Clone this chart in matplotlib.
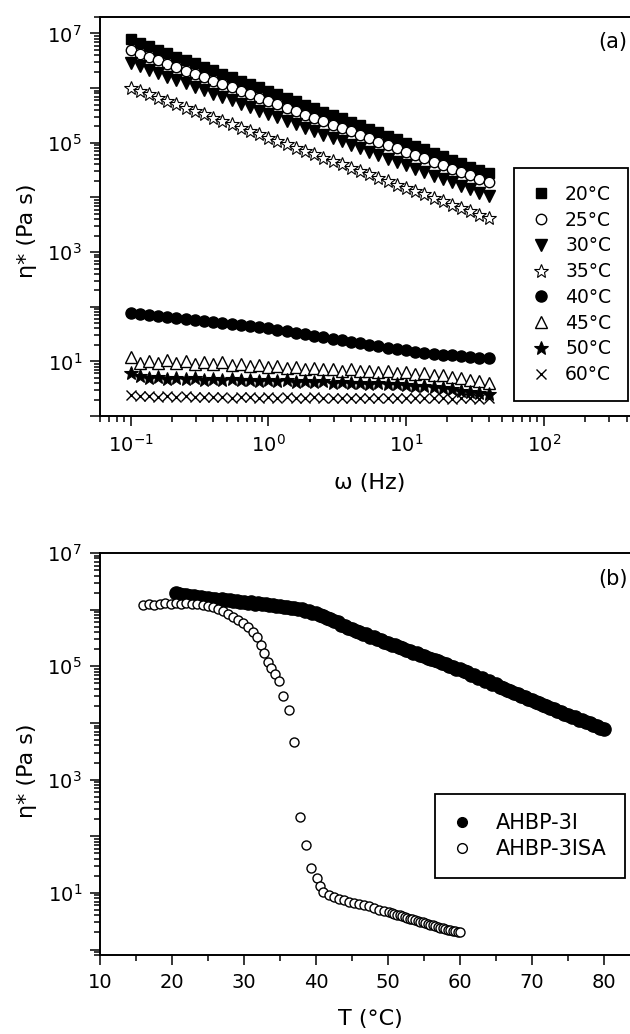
import numpy as np
import matplotlib
matplotlib.use('Agg')
import matplotlib.pyplot as plt
from matplotlib.ticker import LogLocator, FuncFormatter, MultipleLocator, NullFormatter

plt.rcParams['font.family'] = ['DejaVu Sans']
plt.rcParams['mathtext.fontset'] = 'dejavusans'
plt.rcParams['mathtext.default'] = 'regular'

# ---------------- data: panel (a) ----------------
freq = [0.1, 0.1166, 0.1359, 0.1585, 0.1848, 0.2154, 0.2512, 0.2929, 0.3415, 0.3981,
        0.4642, 0.5412, 0.6310, 0.7356, 0.8577, 1.0, 1.166, 1.359, 1.585, 1.848,
        2.154, 2.512, 2.929, 3.415, 3.981, 4.642, 5.412, 6.310, 7.356, 8.577,
        10.0, 11.66, 13.59, 15.85, 18.48, 21.54, 25.12, 29.29, 34.15, 39.81]

eta_20 = [7.8e6, 6.75e6, 5.84e6, 5.05e6, 4.37e6, 3.78e6, 3.27e6, 2.83e6, 2.45e6, 2.12e6,
          1.83e6, 1.58e6, 1.37e6, 1.19e6, 1.03e6, 8.9e5, 7.7e5, 6.65e5, 5.75e5, 4.98e5,
          4.31e5, 3.73e5, 3.22e5, 2.79e5, 2.41e5, 2.09e5, 1.81e5, 1.56e5, 1.35e5, 1.17e5,
          1.01e5, 8.75e4, 7.57e4, 6.55e4, 5.66e4, 4.9e4, 4.24e4, 3.67e4, 3.17e4, 2.74e4]
eta_25 = [4.9e6, 4.25e6, 3.69e6, 3.2e6, 2.77e6, 2.41e6, 2.09e6, 1.81e6, 1.57e6, 1.36e6,
          1.18e6, 1.03e6, 8.9e5, 7.7e5, 6.7e5, 5.8e5, 5.03e5, 4.36e5, 3.78e5, 3.28e5,
          2.85e5, 2.47e5, 2.14e5, 1.86e5, 1.61e5, 1.4e5, 1.21e5, 1.05e5, 9.1e4, 7.9e4,
          6.86e4, 5.95e4, 5.16e4, 4.47e4, 3.88e4, 3.36e4, 2.92e4, 2.53e4, 2.19e4, 1.9e4]
eta_30 = [2.9e6, 2.51e6, 2.17e6, 1.88e6, 1.63e6, 1.41e6, 1.22e6, 1.06e6, 9.2e5, 7.9e5,
          6.9e5, 5.95e5, 5.15e5, 4.46e5, 3.86e5, 3.35e5, 2.9e5, 2.51e5, 2.17e5, 1.88e5,
          1.63e5, 1.41e5, 1.22e5, 1.06e5, 9.15e4, 7.9e4, 6.86e4, 5.94e4, 5.14e4, 4.45e4,
          3.86e4, 3.34e4, 2.89e4, 2.5e4, 2.17e4, 1.88e4, 1.63e4, 1.41e4, 1.22e4, 1.06e4]
eta_35 = [1.02e6, 8.9e5, 7.7e5, 6.7e5, 5.8e5, 5.05e5, 4.4e5, 3.8e5, 3.3e5, 2.88e5,
          2.5e5, 2.17e5, 1.89e5, 1.64e5, 1.42e5, 1.24e5, 1.07e5, 9.3e4, 8.1e4, 7.05e4,
          6.1e4, 5.3e4, 4.62e4, 4.0e4, 3.48e4, 3.03e4, 2.63e4, 2.28e4, 1.98e4, 1.72e4,
          1.5e4, 1.3e4, 1.13e4, 9.8e3, 8.5e3, 7.4e3, 6.43e3, 5.58e3, 4.85e3, 4.2e3]
eta_40 = [76, 73, 70, 67, 65, 62, 60, 57, 55, 53,
          51, 48.5, 46.5, 44.6, 42.7, 40.7, 38.2, 35.8, 33.6, 31.5,
          29.5, 27.7, 25.9, 24.3, 22.9, 21.5, 20.3, 19.1, 17.9, 16.9,
          15.8, 15.0, 14.5, 13.8, 13.3, 12.9, 12.4, 12.0, 11.7, 11.5]
eta_45 = [11.8, 9.5, 10.0, 9.3, 10.5, 9.3, 10.0, 8.9, 9.8, 8.9,
          9.6, 8.5, 9.1, 8.3, 8.7, 7.9, 8.3, 7.6, 7.9, 7.2,
          7.6, 7.1, 7.2, 6.8, 7.1, 6.6, 6.8, 6.3, 6.6, 6.2,
          6.3, 5.9, 6.0, 5.6, 5.6, 5.2, 5.0, 4.6, 4.3, 4.0]
eta_50 = [6.0, 5.3, 5.0, 5.1, 4.8, 5.0, 4.7, 4.9, 4.6, 4.8,
          4.6, 4.7, 4.5, 4.6, 4.4, 4.5, 4.3, 4.5, 4.2, 4.4,
          4.2, 4.3, 4.1, 4.2, 4.0, 4.1, 3.9, 4.0, 3.8, 3.9,
          3.7, 3.6, 3.5, 3.4, 3.2, 3.1, 2.9, 2.8, 2.6, 2.5]
eta_60 = [2.4, 2.3, 2.35, 2.25, 2.3, 2.2, 2.3, 2.2, 2.25, 2.2,
          2.25, 2.15, 2.2, 2.2, 2.15, 2.2, 2.15, 2.2, 2.15, 2.15,
          2.2, 2.1, 2.15, 2.15, 2.1, 2.15, 2.1, 2.15, 2.1, 2.1,
          2.15, 2.1, 2.1, 2.1, 2.1, 2.05, 2.1, 2.1, 2.05, 2.1]

labels_a = ['20°C', '25°C', '30°C', '35°C', '40°C', '45°C', '50°C', '60°C']

# ---------------- data: panel (b) ----------------
T_3I = [20.5, 21.0, 21.5, 22.0, 22.5, 23.0, 23.5, 24.0, 24.5, 25.0,
        25.5, 26.0, 26.5, 27.0, 27.5, 28.0, 28.5, 29.0, 29.5, 30.0,
        30.5, 31.0, 31.5, 32.0, 32.5, 33.0, 33.5, 34.0, 34.5, 35.0,
        35.5, 36.0, 36.5, 37.0, 37.5, 38.0, 38.5, 39.0, 39.5, 40.0,
        40.5, 41.0, 41.5, 42.0, 42.5, 43.0, 43.5, 44.0, 44.5, 45.0,
        45.5, 46.0, 46.5, 47.0, 47.5, 48.0, 48.5, 49.0, 49.5, 50.0,
        50.5, 51.0, 51.5, 52.0, 52.5, 53.0, 53.5, 54.0, 54.5, 55.0,
        55.5, 56.0, 56.5, 57.0, 57.5, 58.0, 58.5, 59.0, 59.5, 60.0,
        60.5, 61.0, 61.5, 62.0, 62.5, 63.0, 63.5, 64.0, 64.5, 65.0,
        65.5, 66.0, 66.5, 67.0, 67.5, 68.0, 68.5, 69.0, 69.5, 70.0,
        70.5, 71.0, 71.5, 72.0, 72.5, 73.0, 73.5, 74.0, 74.5, 75.0,
        75.5, 76.0, 76.5, 77.0, 77.5, 78.0, 78.5, 79.0, 79.5, 80.0]
eta_3I = [1.95e6, 1.90e6, 1.84e6, 1.85e6, 1.76e6, 1.76e6, 1.70e6, 1.70e6, 1.62e6, 1.62e6,
          1.56e6, 1.57e6, 1.50e6, 1.52e6, 1.46e6, 1.47e6, 1.41e6, 1.43e6, 1.36e6, 1.38e6,
          1.32e6, 1.34e6, 1.28e6, 1.30e6, 1.24e6, 1.26e6, 1.20e6, 1.22e6, 1.16e6, 1.18e6,
          1.11e6, 1.13e6, 1.06e6, 1.08e6, 1.01e6, 1.02e6, 9.5e5, 9.4e5, 8.7e5, 8.6e5,
          7.9e5, 7.7e5, 7.1e5, 6.9e5, 6.2e5, 6.0e5, 5.4e5, 5.2e5, 4.7e5, 4.6e5,
          4.15e5, 4.05e5, 3.75e5, 3.65e5, 3.35e5, 3.25e5, 2.98e5, 2.92e5, 2.68e5, 2.62e5,
          2.42e5, 2.34e5, 2.17e5, 2.10e5, 1.95e5, 1.89e5, 1.75e5, 1.70e5, 1.58e5, 1.53e5,
          1.42e5, 1.37e5, 1.27e5, 1.22e5, 1.14e5, 1.10e5, 1.02e5, 9.8e4, 9.1e4, 8.8e4,
          8.1e4, 7.8e4, 7.1e4, 6.9e4, 6.3e4, 6.1e4, 5.5e4, 5.4e4, 4.9e4, 4.8e4,
          4.3e4, 4.2e4, 3.85e4, 3.65e4, 3.35e4, 3.25e4, 2.95e4, 2.85e4, 2.65e4, 2.52e4,
          2.33e4, 2.26e4, 2.07e4, 2.00e4, 1.83e4, 1.78e4, 1.62e4, 1.58e4, 1.44e4, 1.40e4,
          1.28e4, 1.26e4, 1.14e4, 1.13e4, 1.02e4, 1.01e4, 9.1e3, 9.0e3, 8.2e3, 7.9e3]

T_3ISA = [16.0, 16.8, 17.5, 18.3, 19.0, 19.8, 20.5, 21.3, 22.0, 22.8,
          23.5, 24.3, 25.0, 25.7, 26.4, 27.1, 27.8, 28.5, 29.2, 29.9,
          30.6, 31.3, 31.8, 32.3, 32.8, 33.3, 33.8, 34.3, 34.8, 35.4,
          36.2, 36.9, 37.8, 38.6, 39.3, 40.1, 40.5, 41.0, 41.8, 42.5,
          43.2, 43.9, 44.6, 45.3, 46.0, 46.7, 47.4, 48.1, 48.8, 49.5,
          50.2, 50.6, 50.9, 51.3, 51.6, 52.0, 52.3, 52.7, 53.0, 53.4,
          53.7, 54.1, 54.4, 54.8, 55.1, 55.5, 55.8, 56.2, 56.5, 56.9,
          57.2, 57.6, 57.9, 58.3, 58.6, 59.0, 59.3, 59.7, 60.0]
eta_3ISA = [1.20e6, 1.25e6, 1.22e6, 1.28e6, 1.30e6, 1.25e6, 1.32e6, 1.27e6, 1.30e6, 1.24e6,
            1.28e6, 1.22e6, 1.15e6, 1.10e6, 1.02e6, 9.5e5, 8.5e5, 7.4e5, 6.6e5, 5.8e5,
            5.0e5, 4.1e5, 3.3e5, 2.4e5, 1.7e5, 1.2e5, 9.3e4, 7.4e4, 5.5e4, 3.0e4,
            1.66e4, 4.6e3, 220, 71, 28, 18, 13, 10.5, 9.1, 8.5,
            7.9, 7.4, 6.9, 6.6, 6.3, 6.0, 5.8, 5.4, 5.0, 4.8,
            4.6, 4.5, 4.3, 4.1, 4.0, 3.9, 3.7, 3.6, 3.5, 3.4,
            3.3, 3.2, 3.1, 3.0, 2.9, 2.8, 2.75, 2.7, 2.6, 2.5,
            2.4, 2.35, 2.3, 2.25, 2.2, 2.15, 2.1, 2.05, 2.0]

labels_b = ['AHBP-3I', 'AHBP-3ISA']

# ---------------- figure ----------------
W, H = 630, 1034
fig = plt.figure(figsize=(W / 100, H / 100), dpi=100)
fig.patch.set_facecolor('white')
ax1 = fig.add_axes([100 / W, 1 - 416 / H, 540 / W, 399 / H])
ax2 = fig.add_axes([100 / W, 1 - 955 / H, 540 / W, 402 / H])

styles_a = [
    dict(marker='s', ms=7.5, mfc='black', mec='black', mew=1.0),
    dict(marker='o', ms=7.5, mfc='white', mec='black', mew=1.0),
    dict(marker='v', ms=9, mfc='black', mec='black', mew=1.0),
    dict(marker='*', ms=10.5, mfc='white', mec='black', mew=0.8),
    dict(marker='o', ms=8, mfc='black', mec='black', mew=1.0),
    dict(marker='^', ms=9, mfc='white', mec='black', mew=1.0),
    dict(marker='*', ms=10.5, mfc='black', mec='black', mew=0.8),
    dict(marker='x', ms=7.5, mfc='none', mec='black', mew=1.0),
]
series_a = [eta_20, eta_25, eta_30, eta_35, eta_40, eta_45, eta_50, eta_60]
for y, lab, st in zip(series_a, labels_a, styles_a):
    ax1.plot(freq, y, linestyle='none', label=lab, **st)

ax2.plot(T_3I, eta_3I, linestyle='none', marker='o', ms=9.5, mfc='black', mec='black',
         mew=1.0, label=labels_b[0])
ax2.plot(T_3ISA, eta_3ISA, linestyle='none', marker='o', ms=6.5, mfc='white', mec='black',
         mew=1.0, label=labels_b[1])


def fmt_pow(v, pos, odd_only=False):
    e = int(round(np.log10(v)))
    if odd_only and e % 2 == 0:
        return ''
    return r'$10^{%d}$' % e


for ax in (ax1, ax2):
    ax.set_yscale('log')
    ax.yaxis.set_major_locator(LogLocator(base=10.0, subs=(1.0,), numticks=30))
    ax.yaxis.set_minor_locator(LogLocator(base=10.0, subs=np.arange(2, 10), numticks=30))
    ax.yaxis.set_minor_formatter(NullFormatter())
    ax.yaxis.set_major_formatter(FuncFormatter(lambda v, p: fmt_pow(v, p, True)))
    for s in ax.spines.values():
        s.set_linewidth(1.4)
    ax.tick_params(which='both', direction='out', top=False, right=False, width=1.1,
                   labelsize=14, pad=6)
    ax.tick_params(which='major', length=7)
    ax.tick_params(which='minor', length=4)

ax1.set_xscale('log')
ax1.xaxis.set_major_locator(LogLocator(base=10.0, subs=(1.0,), numticks=30))
ax1.xaxis.set_minor_locator(LogLocator(base=10.0, subs=np.arange(2, 10), numticks=30))
ax1.xaxis.set_minor_formatter(NullFormatter())
ax1.xaxis.set_major_formatter(FuncFormatter(lambda v, p: fmt_pow(v, p, False)))
ax1.set_xlim(0.06, 500)
ax1.set_ylim(1, 2e7)

ax2.set_xlim(10, 85)
ax2.set_ylim(0.8, 1e7)
ax2.xaxis.set_major_locator(MultipleLocator(10))
ax2.xaxis.set_minor_locator(MultipleLocator(5))

ax1.set_xlabel('ω (Hz)', fontsize=16, labelpad=12)
ax2.set_xlabel('T (°C)', fontsize=16, labelpad=12)
ax1.set_ylabel('η* (Pa s)', fontsize=16)
ax2.set_ylabel('η* (Pa s)', fontsize=16)
ax1.yaxis.set_label_coords(-0.117, 0.464)
ax2.yaxis.set_label_coords(-0.117, 0.458)

ax1.text(0.922, 0.937, '(a)', transform=ax1.transAxes, fontsize=15, va='center', ha='left')
ax2.text(0.922, 0.935, '(b)', transform=ax2.transAxes, fontsize=15, va='center', ha='left')

leg1 = ax1.legend(loc='upper right', bbox_to_anchor=(0.978, 0.6216), borderaxespad=0,
                  fontsize=13.5, frameon=True, fancybox=False, edgecolor='black',
                  framealpha=1, labelspacing=0.36, handletextpad=0.8, borderpad=0.9,
                  handlelength=1.0, numpoints=1)
leg1.get_frame().set_linewidth(1.3)

leg2 = ax2.legend(loc='upper right', bbox_to_anchor=(0.972, 0.40), borderaxespad=0,
                  fontsize=15, frameon=True, fancybox=False, edgecolor='black',
                  framealpha=1, labelspacing=0.3, handletextpad=1.2, borderpad=0.9,
                  handlelength=0.8, numpoints=1)
leg2.get_frame().set_linewidth(1.3)
for h in leg2.legend_handles:
    h.set_markersize(7)

fig.savefig('out.png', dpi=100)
